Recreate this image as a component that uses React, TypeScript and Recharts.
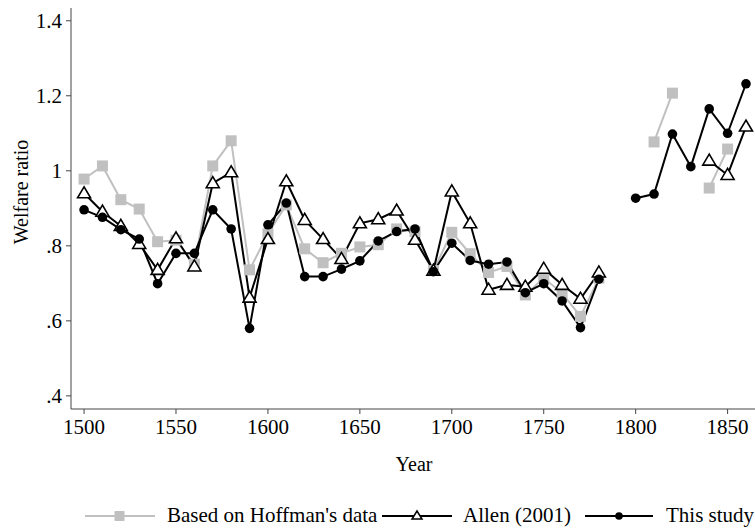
import { LineChart, Line, XAxis, YAxis } from "recharts";

const YEARS = [
  1500, 1510, 1520, 1530, 1540, 1550, 1560, 1570, 1580, 1590, 1600, 1610, 1620,
  1630, 1640, 1650, 1660, 1670, 1680, 1690, 1700, 1710, 1720, 1730, 1740, 1750,
  1760, 1770, 1780, 1790, 1800, 1810, 1820, 1830, 1840, 1850, 1860,
];

const HOFFMAN = [
  0.978, 1.013, 0.923, 0.898, 0.811, 0.815, 0.751, 1.013, 1.08, 0.736, 0.832,
  0.909, 0.792, 0.755, 0.78, 0.797, 0.803, 0.845, 0.838, 0.734, 0.836, 0.779,
  0.729, 0.745, 0.669, 0.714, 0.674, 0.612, 0.714, null, null, 1.077, 1.207,
  null, 0.954, 1.058, null,
];

const ALLEN = [
  0.94, 0.891, 0.853, 0.805, 0.736, 0.82, 0.745, 0.967, 0.996, 0.662, 0.818,
  0.972, 0.869, 0.818, 0.765, 0.86, 0.871, 0.894, 0.816, 0.734, 0.945, 0.86,
  0.683, 0.696, 0.691, 0.739, 0.696, 0.659, 0.729, null, null, null, null,
  null, 1.027, 0.989, 1.118,
];

const THIS_STUDY = [
  0.896, 0.876, 0.843, 0.818, 0.699, 0.78, 0.78, 0.896, 0.845, 0.58, 0.856,
  0.914, 0.718, 0.718, 0.738, 0.76, 0.813, 0.838, 0.845, 0.731, 0.807, 0.761,
  0.751, 0.757, 0.675, 0.699, 0.653, 0.582, 0.711, null, 0.927, 0.938, 1.098,
  1.011, 1.165, 1.1, 1.232,
];

const X_TICKS = [1500, 1550, 1600, 1650, 1700, 1750, 1800, 1850];
const Y_TICKS = [0.4, 0.6, 0.8, 1, 1.2, 1.4];

const data = YEARS.map((year, i) => ({
  year,
  hoffman: HOFFMAN[i],
  allen: ALLEN[i],
  study: THIS_STUDY[i],
}));

const GRAY = "#c0c0c0";
const AXIS = "#444";
const FONT = "'Liberation Serif', 'Times New Roman', serif";

const fmtY = (v: number) => {
  const s = String(Number(v.toFixed(1)));
  return s.startsWith("0") ? s.slice(1) : s;
};

function SquareDot(props: any) {
  const { cx, cy, index } = props;
  if (cx == null || cy == null) return <g key={`s${index}`} />;
  return <rect key={`s${index}`} x={cx - 5.5} y={cy - 5.5} width={11} height={11} fill={GRAY} />;
}

function TriangleDot(props: any) {
  const { cx, cy, index } = props;
  if (cx == null || cy == null) return <g key={`t${index}`} />;
  return (
    <polygon
      key={`t${index}`}
      points={`${cx},${cy - 6.5} ${cx - 6.5},${cy + 4.5} ${cx + 6.5},${cy + 4.5}`}
      fill="#fff"
      stroke="#000"
      strokeWidth={1.6}
    />
  );
}

function CircleDot(props: any) {
  const { cx, cy, index } = props;
  if (cx == null || cy == null) return <g key={`c${index}`} />;
  return <circle key={`c${index}`} cx={cx} cy={cy} r={4.8} fill="#000" />;
}

const tickStyle = { fill: "#000", fontSize: 21, fontFamily: FONT };

export default function App() {
  return (
    <div style={{ position: "absolute", left: 0, top: 0, width: 755, height: 530, background: "#fff", fontFamily: FONT, overflow: "hidden" }}>
      <LineChart width={755} height={530} data={data} margin={{ top: 8, right: 0, left: 0, bottom: 0 }}>
        <XAxis
          dataKey="year"
          type="number"
          domain={[1492.9, 1864.9]}
          ticks={X_TICKS}
          allowDataOverflow
          height={121}
          stroke={AXIS}
          tickSize={5}
          tick={tickStyle}
          tickMargin={5}
        />
        <YAxis
          type="number"
          domain={[0.365, 1.434]}
          ticks={Y_TICKS}
          allowDataOverflow
          width={71}
          stroke={AXIS}
          tickSize={5}
          tick={tickStyle}
          tickMargin={4}
          tickFormatter={fmtY}
        />
        <Line dataKey="hoffman" stroke={GRAY} strokeWidth={2} dot={SquareDot} isAnimationActive={false} connectNulls={false} />
        <Line dataKey="allen" stroke="#000" strokeWidth={2} dot={TriangleDot} isAnimationActive={false} connectNulls={false} />
        <Line dataKey="study" stroke="#000" strokeWidth={2} dot={CircleDot} isAnimationActive={false} connectNulls={false} />
      </LineChart>

      <div style={{ position: "absolute", left: 21, top: 192, transform: "translate(-50%, -50%) rotate(-90deg)", fontSize: 20, whiteSpace: "nowrap" }}>
        Welfare ratio
      </div>
      <div style={{ position: "absolute", left: 414, top: 464, transform: "translate(-50%, -50%)", fontSize: 20, whiteSpace: "nowrap" }}>
        Year
      </div>

      {/* legend */}
      <svg style={{ position: "absolute", left: 0, top: 500 }} width={755} height={30}>
        <line x1={85} x2={155} y1={16} y2={16} stroke={GRAY} strokeWidth={2} />
        <rect x={114.5} y={11} width={10} height={10} fill={GRAY} />
        <line x1={382} x2={452} y1={16} y2={16} stroke="#000" strokeWidth={2} />
        <polygon points="417,11 412,19 422,19" fill="#fff" stroke="#000" strokeWidth={1.5} />
        <line x1={585} x2={653} y1={16} y2={16} stroke="#000" strokeWidth={2} />
        <circle cx={619} cy={16} r={3.8} fill="#000" />
      </svg>
      <div style={{ position: "absolute", left: 167, top: 503, fontSize: 21, whiteSpace: "nowrap", lineHeight: "24px" }}>Based on Hoffman's data</div>
      <div style={{ position: "absolute", left: 463, top: 503, fontSize: 21, whiteSpace: "nowrap", lineHeight: "24px" }}>Allen (2001)</div>
      <div style={{ position: "absolute", left: 666, top: 503, fontSize: 21, whiteSpace: "nowrap", lineHeight: "24px" }}>This study</div>
    </div>
  );
}
